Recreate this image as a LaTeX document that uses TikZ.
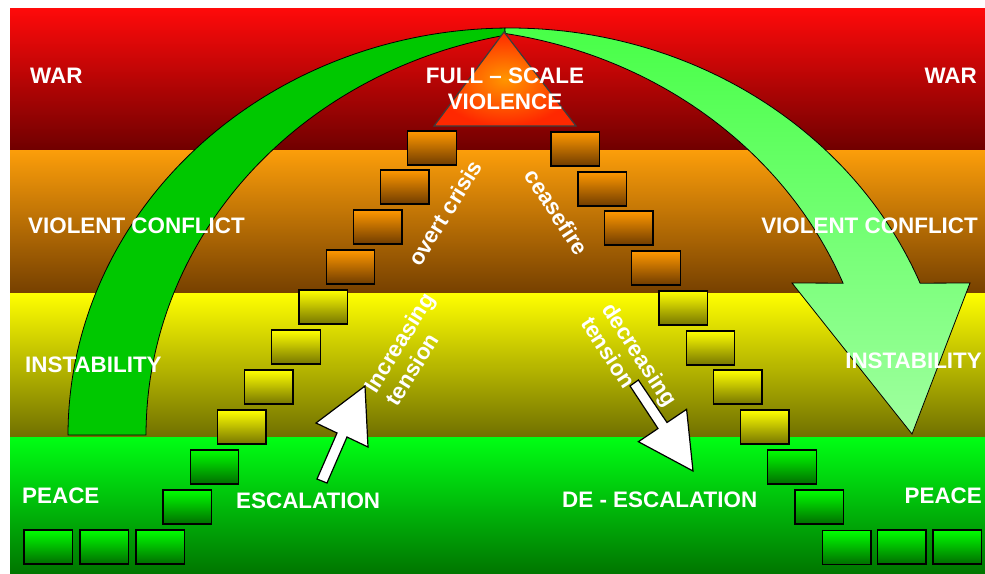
\documentclass[tikz,border=0pt]{standalone}
\usepackage{fontspec}
\setmainfont{Liberation Sans}
\definecolor{warTop}{RGB}{255,10,10}
\definecolor{warBot}{RGB}{112,0,0}
\definecolor{violTop}{RGB}{252,158,10}
\definecolor{violBot}{RGB}{118,64,0}
\definecolor{instTop}{RGB}{255,255,0}
\definecolor{instBot}{RGB}{112,112,0}
\definecolor{peaceTop}{RGB}{0,255,20}
\definecolor{peaceBot}{RGB}{0,118,0}
\definecolor{arcDark}{RGB}{0,200,0}
\definecolor{arcLightTop}{RGB}{72,255,72}
\definecolor{arcLightBot}{RGB}{160,255,160}
\definecolor{triInner}{RGB}{255,150,0}
\definecolor{triOuter}{RGB}{255,40,0}
\definecolor{triEdge}{RGB}{60,60,60}

\begin{document}
\begin{tikzpicture}[x=1pt,y=-1pt,
  lbl/.style={text=white,inner sep=0pt,font=\fontsize{22.4}{25}\selectfont\bfseries},
  orangebox/.style={draw=black,line width=1.3pt,top color={rgb,255:red,255;green,152;blue,0},bottom color={rgb,255:red,112;green,60;blue,0}},
  yellowbox/.style={draw=black,line width=1.3pt,top color={rgb,255:red,255;green,255;blue,0},bottom color={rgb,255:red,118;green,118;blue,0}},
  greenbox/.style={draw=black,line width=1.3pt,top color={rgb,255:red,0;green,255;blue,0},bottom color={rgb,255:red,0;green,110;blue,0}},
  blockarrow/.style={fill=white,draw=black,line width=1.2pt,line join=miter}]
\useasboundingbox (0,0) rectangle (985,573);
\shade[top color=warTop,bottom color=warBot] (10,8) rectangle (985,150);
\shade[top color=violTop,bottom color=violBot] (10,150) rectangle (985,293);
\shade[top color=instTop,bottom color=instBot] (10,293) rectangle (985,437);
\shade[top color=peaceTop,bottom color=peaceBot] (10,437) rectangle (985,573);

\filldraw[fill=arcDark,draw=black,line width=0.8pt] plot[domain=180:90.65,samples=90] ({510+442*cos(\x)},{435-407*sin(\x)}) -- plot[domain=100.8:180,samples=90] ({588+442*cos(\x)},{435-407*sin(\x)}) -- cycle;
\shade[draw=black,line width=0.8pt,top color=arcLightTop,bottom color=arcLightBot] plot[domain=90.65:21.9,samples=90] ({510+442*cos(\x)},{435-407*sin(\x)}) -- (970,283) -- (912,434) -- (792,283) -- plot[domain=21.9:80.6,samples=90] ({433+442*cos(\x)},{435-407*sin(\x)}) -- cycle;

\shade[draw=triEdge,line width=1.2pt,inner color=triInner,outer color=triOuter] (504,32) -- (576,126) -- (434,126) -- cycle;

\draw[greenbox] (24,530) rectangle ++(48.5,34);
\draw[greenbox] (80,530) rectangle ++(48.5,34);
\draw[greenbox] (136,530) rectangle ++(48.5,34);
\draw[greenbox] (163,490) rectangle ++(48.5,34);
\draw[greenbox] (190.2,450) rectangle ++(48.5,34);
\draw[yellowbox] (217.4,410) rectangle ++(48.5,34);
\draw[yellowbox] (244.6,370) rectangle ++(48.5,34);
\draw[yellowbox] (271.8,330) rectangle ++(48.5,34);
\draw[yellowbox] (299,290) rectangle ++(48.5,34);
\draw[orangebox] (326.2,250) rectangle ++(48.5,34);
\draw[orangebox] (353.4,210) rectangle ++(48.5,34);
\draw[orangebox] (380.6,170) rectangle ++(48.5,34);
\draw[orangebox] (407.8,131) rectangle ++(48.5,34);

\draw[orangebox] (551,132) rectangle ++(48.5,34);
\draw[orangebox] (578,172) rectangle ++(48.5,34);
\draw[orangebox] (604.6,211) rectangle ++(48.5,34);
\draw[orangebox] (631.8,251) rectangle ++(48.5,34);
\draw[yellowbox] (659,291) rectangle ++(48.5,34);
\draw[yellowbox] (686.2,331) rectangle ++(48.5,34);
\draw[yellowbox] (713.4,370) rectangle ++(48.5,34);
\draw[yellowbox] (740.6,410) rectangle ++(48.5,34);
\draw[greenbox] (767.8,450) rectangle ++(48.5,34);
\draw[greenbox] (795,490) rectangle ++(48.5,34);
\draw[greenbox] (822.5,530.5) rectangle ++(48.5,34);
\draw[greenbox] (877.5,530) rectangle ++(48.5,34);
\draw[greenbox] (933,530) rectangle ++(48.5,34);

\node[lbl,anchor=base west] (warL) at (30,83) {WAR};
\node[lbl,anchor=base east] (warR) at (977,83) {WAR};
\node[lbl,anchor=base] (full) at (505,83) {FULL – SCALE};
\node[lbl,anchor=base] (viol) at (505,109) {VIOLENCE};
\node[lbl,anchor=base west] (conflictL) at (28,233) {VIOLENT CONFLICT};
\node[lbl,anchor=base east] (conflictR) at (978,233) {VIOLENT CONFLICT};
\node[lbl,anchor=base west] (instL) at (25,372) {INSTABILITY};
\node[lbl,anchor=base east] (instR) at (982,368) {INSTABILITY};
\node[lbl,anchor=base west] (peaceL) at (22,503) {PEACE};
\node[lbl,anchor=base east] (peaceR) at (982,503) {PEACE};
\node[lbl,anchor=base west] (esc) at (236,508) {ESCALATION};
\node[lbl,anchor=base west] (deesc) at (562,507) {DE - ESCALATION};
\node[lbl,rotate=58] (overt) at (445,213) {overt crisis};
\node[lbl,rotate=58,anchor=base west] (incrA) at (376,394.5) {Increasing};
\node[lbl,rotate=58,anchor=base west] (incrB) at (397.5,407.5) {tension};
\node[lbl,rotate=-57] (cease) at (557,212) {ceasefire};
\node[lbl,rotate=-57,anchor=base west] (decrA) at (601,309) {decreasing};
\node[lbl,rotate=-57,anchor=base west] (decrB) at (580,323) {tension};

\draw[blockarrow] (317,479) -- (337,433) -- (316,423) -- (365,386) -- (368,447) -- (347,437) -- (327,483) -- cycle;
\draw[blockarrow] (630,386) -- (658,428.5) -- (638.4,441.7) -- (693,471) -- (686.6,409.3) -- (667,422.5) -- (638.4,380) -- cycle;
\end{tikzpicture}
\end{document}
